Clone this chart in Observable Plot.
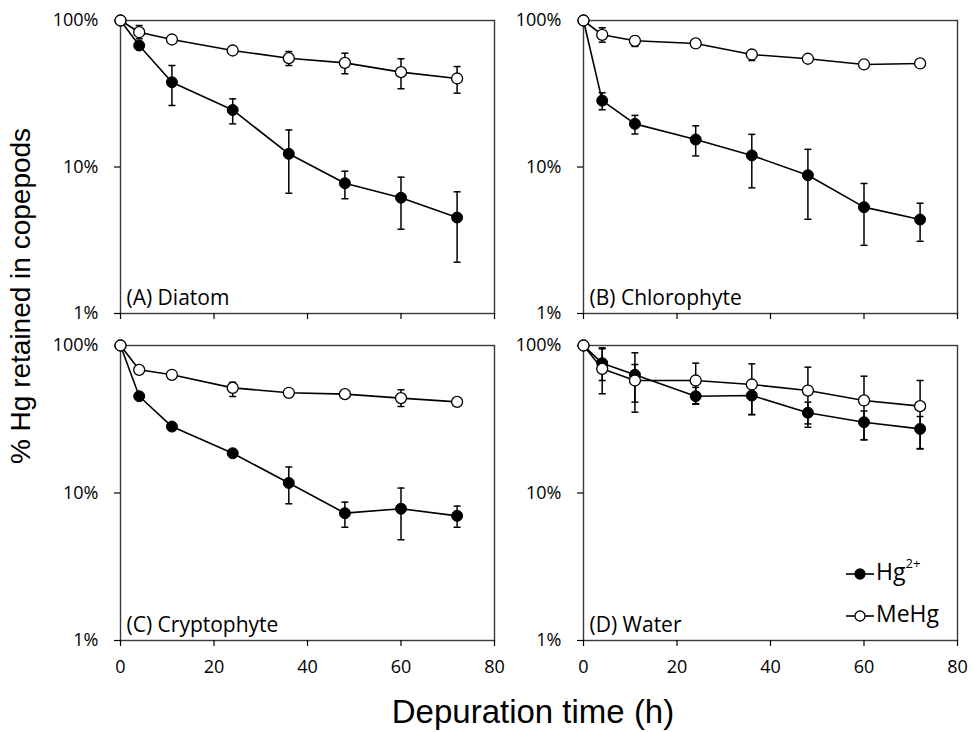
<!DOCTYPE html>
<html>
<head>
<meta charset="utf-8">
<script src="https://cdn.jsdelivr.net/npm/d3@7"></script>
<script src="https://cdn.jsdelivr.net/npm/@observablehq/plot@0.6"></script>
<style>
  html, body { margin: 0; padding: 0; background: #fff; }
  #fig { position: relative; width: 971px; height: 732px; background: #fff; overflow: hidden; }
  .panel { position: absolute; }
  .panel svg { background: transparent !important; overflow: visible; }
  #ytitle { position: absolute; left: -179px; top: 281px; width: 400px; text-align: center;
    font-family: "Liberation Sans", Arial, sans-serif; font-size: 28px; line-height: 30px;
    transform: rotate(-90deg); transform-origin: 50% 50%; color: #000; white-space: nowrap; }
  #xtitle { position: absolute; left: 333px; top: 695px; width: 400px; text-align: center;
    font-family: "Liberation Sans", Arial, sans-serif; font-size: 33px; line-height: 33px; color: #000; white-space: nowrap; }
  .leg { position: absolute; font-family: "Open Sans", sans-serif; font-size: 23px; color: #000; line-height: 1; white-space: nowrap; }
  .leg svg { vertical-align: middle; }
  .leg sup { font-size: 13px; position: relative; top: -3px; }
</style>
</head>
<body>
<div id="fig">
  <div id="ytitle">% Hg retained in copepods</div>
  <div id="xtitle">Depuration time (h)</div>
</div>
<script>
// ---------- data ----------
const times = [0, 4, 11, 24, 36, 48, 60, 72];
const xTicks = [0, 20, 40, 60, 80];
const yTicks = [1, 10, 100];
const panelLabels = ["(A) Diatom", "(B) Chlorophyte", "(C) Cryptophyte", "(D) Water"];
const seriesNames = ["Hg2+", "MeHg"];

// (A) Diatom
const diatomHg   = [100, 67.5, 37.9, 24.5, 12.3, 7.75, 6.17, 4.52];
const diatomHgLo = [null, null, 26.3, 19.7, 6.62, 6.07, 3.76, 2.24];
const diatomHgHi = [null, null, 49.3, 29.2, 17.9, 9.36, 8.52, 6.77];
const diatomMe   = [100, 83.2, 74.2, 62.4, 55.3, 51.4, 44.4, 40.2];
const diatomMeLo = [null, 75.0, null, null, 49.3, 43.3, 34.2, 31.9];
const diatomMeHi = [null, 92.4, null, null, 61.4, 59.8, 54.8, 48.5];

// (B) Chlorophyte
const chloroHg   = [100, 28.4, 19.7, 15.4, 12.0, 8.79, 5.32, 4.38];
const chloroHgLo = [null, 24.6, 16.8, 11.9, 7.21, 4.40, 2.92, 3.11];
const chloroHgHi = [null, 32.1, 22.5, 19.1, 16.7, 13.2, 7.72, 5.66];
const chloroMe   = [100, 79.9, 72.7, 69.7, 58.6, 54.8, 50.1, 50.9];
const chloroMeLo = [null, 71.1, 66.5, null, 53.3, null, null, null];
const chloroMeHi = [null, 89.2, 77.8, null, 62.4, null, null, null];

// (C) Cryptophyte
const cryptoHg   = [100, 45.3, 28.2, 18.6, 11.7, 7.30, 7.82, 7.00];
const cryptoHgLo = [null, null, null, null, 8.45, 5.86, 4.82, 5.86];
const cryptoHgHi = [null, null, null, null, 15.0, 8.67, 10.8, 8.15];
const cryptoMe   = [100, 68.4, 63.3, 51.6, 47.8, 46.8, 44.0, 41.5];
const cryptoMeLo = [null, null, null, 45.1, null, null, 38.6, null];
const cryptoMeHi = [null, null, null, 56.4, null, null, 50.1, null];

// (D) Water
const waterHg   = [100, 75.9, 63.3, 45.3, 45.8, 35.0, 30.2, 27.2];
const waterHgLo = [null, 57.9, 41.3, 40.3, 34.0, 27.9, 22.9, 19.9];
const waterHgHi = [null, 95.0, 74.3, 52.0, 56.0, 41.3, 36.0, 33.0];
const waterMe   = [100, 69.5, 57.9, 57.9, 54.4, 49.5, 42.4, 38.8];
const waterMeLo = [null, 47.1, 35.3, 40.0, 34.0, 29.4, 23.0, 20.0];
const waterMeHi = [null, 96.4, 89.2, 75.9, 75.1, 71.3, 61.9, 57.9];

// ---------- helpers ----------
function rows(vals, lo, hi, series) {
  return times.map((t, i) => ({t, v: vals[i], lo: lo[i], hi: hi[i], series}));
}
const capSymbol = {
  draw(ctx, size) {
    const w = Math.sqrt(size / Math.PI);
    ctx.moveTo(-w, 0);
    ctx.lineTo(w, 0);
  }
};

function panel(label, hgRows, meRows, showXLabels) {
  const all = hgRows.concat(meRows);
  const errs = all.filter(d => d.lo != null && d.hi != null);
  const caps = errs.flatMap(d => [{t: d.t, y: d.lo}, {t: d.t, y: d.hi}]);
  return Plot.plot({
    width: 504,
    height: showXLabels ? 370 : 330,
    marginLeft: 120,
    marginRight: 10,
    marginTop: 20,
    marginBottom: showXLabels ? 55 : 17,
    style: {background: "transparent", fontFamily: "'Open Sans', sans-serif", fontSize: "18px", color: "#000", overflow: "visible"},
    x: {domain: [0, 80]},
    y: {type: "log", domain: [1, 100]},
    marks: [
      Plot.frame({stroke: "#3a3a3a", strokeWidth: 1.4}),
      Plot.axisX({ticks: xTicks, tickSize: 6, tickPadding: 14, strokeWidth: 1.2, fontSize: 18,
        tickFormat: showXLabels ? (d => String(d)) : (() => ""), label: null}),
      Plot.axisY({ticks: yTicks, tickSize: 6, tickPadding: 16, strokeWidth: 1.2, fontSize: 18,
        tickFormat: d => d + "%", label: null}),
      Plot.ruleX(errs, {x: "t", y1: "lo", y2: "hi", stroke: "#000", strokeWidth: 1.5}),
      Plot.dot(caps, {x: "t", y: "y", symbol: capSymbol, r: 3.5, fill: "none", stroke: "#000", strokeWidth: 1.5}),
      Plot.line(hgRows, {x: "t", y: "v", stroke: "#000", strokeWidth: 1.6}),
      Plot.dot(hgRows, {x: "t", y: "v", r: 5.5, fill: "#000", stroke: "#000", strokeWidth: 1}),
      Plot.line(meRows, {x: "t", y: "v", stroke: "#000", strokeWidth: 1.6}),
      Plot.dot(meRows, {x: "t", y: "v", r: 5.5, fill: "#fff", stroke: "#000", strokeWidth: 1.3}),
      Plot.text([label], {frameAnchor: "bottom-left", text: d => d, dx: 6, dy: -9, lineAnchor: "bottom",
        textAnchor: "start", fontSize: 21, fill: "#000"})
    ]
  });
}

const fig = document.getElementById("fig");
const specs = [
  {label: panelLabels[0], hg: rows(diatomHg, diatomHgLo, diatomHgHi, seriesNames[0]), me: rows(diatomMe, diatomMeLo, diatomMeHi, seriesNames[1]), left: 0, top: 0, xl: false},
  {label: panelLabels[1], hg: rows(chloroHg, chloroHgLo, chloroHgHi, seriesNames[0]), me: rows(chloroMe, chloroMeLo, chloroMeHi, seriesNames[1]), left: 463, top: 0, xl: false},
  {label: panelLabels[2], hg: rows(cryptoHg, cryptoHgLo, cryptoHgHi, seriesNames[0]), me: rows(cryptoMe, cryptoMeLo, cryptoMeHi, seriesNames[1]), left: 0, top: 325, xl: true},
  {label: panelLabels[3], hg: rows(waterHg, waterHgLo, waterHgHi, seriesNames[0]), me: rows(waterMe, waterMeLo, waterMeHi, seriesNames[1]), left: 463, top: 325, xl: true}
];
for (const s of specs) {
  const div = document.createElement("div");
  div.className = "panel";
  div.style.left = s.left + "px";
  div.style.top = s.top + "px";
  div.appendChild(panel(s.label, s.hg, s.me, s.xl));
  fig.appendChild(div);
}

// legend (inside panel D)
function legendItem(name, fill, top, html) {
  const d = document.createElement("div");
  d.className = "leg";
  d.style.left = "845px";
  d.style.top = top + "px";
  d.innerHTML = `<svg width="30" height="16" style="margin-right:1px"><line x1="1" x2="29" y1="8" y2="8" stroke="#000" stroke-width="1.6"/><circle cx="15" cy="8" r="5" fill="${fill}" stroke="#000" stroke-width="1.3"/></svg>${html}`;
  fig.appendChild(d);
}
legendItem(seriesNames[0], "#000", 560, "Hg<sup>2+</sup>");
legendItem(seriesNames[1], "#fff", 602, "MeHg");
</script>
</body>
</html>
